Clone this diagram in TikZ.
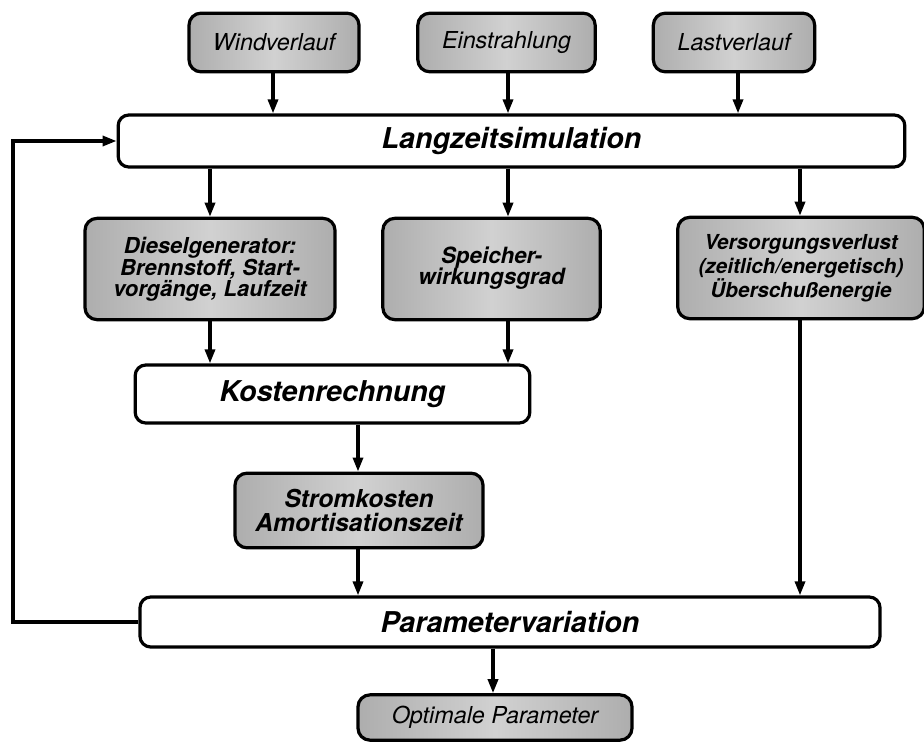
\documentclass[tikz,border=0pt]{standalone}
\usepackage{fontspec}
\setmainfont{TeX Gyre Heros}
\usetikzlibrary{arrows.meta,calc}
\begin{document}
\begin{tikzpicture}[x=0.75pt,y=-0.75pt,
  line width=2.4pt,
  arr/.style={-{Triangle[length=10.5pt,width=7.5pt]}},
  graybox/.style={draw,rounded corners=9pt,shading=axis,left color=gray!64,right color=gray!64,middle color=gray!36,inner sep=0pt,align=center},
  whitebox/.style={draw,rounded corners=8pt,fill=white,inner sep=0pt,align=center,font=\fontsize{21.5}{24}\selectfont\bfseries\itshape},
  inbox/.style={graybox,font=\fontsize{17.5}{20}\selectfont\itshape},
  resbox/.style={graybox,font=\fontsize{16.5}{15.5}\selectfont\bfseries\itshape}
]
\useasboundingbox (0,0) rectangle (924,742);
% input boxes
\node[inbox,minimum width=127.5pt,minimum height=44pt] (wind) at (274,42.5) {Windverlauf};
\node[inbox,minimum width=133pt,minimum height=44pt] (ein) at (506.5,42.5) {Einstrahlung};
\node[inbox,minimum width=121pt,minimum height=44pt] (last) at (734,42.5) {Lastverlauf};
% main boxes
\node[whitebox,minimum width=590pt,minimum height=39pt] (lang) at (511.5,141) {Langzeitsimulation};
\node[resbox,minimum width=187.5pt,minimum height=76pt] (diesel) at (210,269) {Dieselgenerator:\\Brennstoff, Start-\\vorgänge, Laufzeit};
\node[resbox,minimum width=163pt,minimum height=76pt,font=\fontsize{16.8}{16.5}\selectfont\bfseries\itshape] (speicher) at (491.5,269) {\raisebox{6pt}{\begin{tabular}{@{}c@{}}Speicher-\\[-2pt]wirkungsgrad\end{tabular}}};
\node[resbox,minimum width=185pt,minimum height=76pt,font=\fontsize{15.5}{18}\selectfont\bfseries\itshape] (vers) at (801,268) {Versorgungsverlust\\(zeitlich/energetisch)\\Überschußenergie};
\node[whitebox,minimum width=296pt,minimum height=43.5pt] (kosten) at (332.5,394) {Kostenrechnung};
\node[resbox,minimum width=186pt,minimum height=56pt,font=\fontsize{18.5}{18}\selectfont\bfseries\itshape] (strom) at (359,510.5) {Stromkosten\\Amortisationszeit};
\node[whitebox,minimum width=555pt,minimum height=37.5pt] (param) at (510,622) {Parametervariation};
\node[inbox,minimum width=205.5pt,minimum height=34pt] (opt) at (495,717.5) {Optimale Parameter};
% connectors
\draw[arr] (wind.south -| 273,0) -- (lang.north -| 273,0);
\draw[arr] (ein.south -| 508,0) -- (lang.north -| 508,0);
\draw[arr] (last.south -| 738,0) -- (lang.north -| 738,0);
\draw[arr] (lang.south -| 210,0) -- (diesel.north -| 210,0);
\draw[arr] (lang.south -| 508,0) -- (speicher.north -| 508,0);
\draw[arr] (lang.south -| 800,0) -- (vers.north -| 800,0);
\draw[arr] (diesel.south -| 210,0) -- (kosten.north -| 210,0);
\draw[arr] (speicher.south -| 508,0) -- (kosten.north -| 508,0);
\draw[arr] (kosten.south -| 358,0) -- (strom.north -| 358,0);
\draw[arr] (strom.south -| 358,0) -- (param.north -| 358,0);
\draw[arr] (vers.south -| 800,0) -- (param.north -| 800,0);
\draw[arr] (param.south -| 493,0) -- (opt.north -| 493,0);
\coordinate (fb) at (13,622);
\draw[arr] (param.west) -- (fb) -- (fb |- lang.west) -- (lang.west);
\end{tikzpicture}
\end{document}
